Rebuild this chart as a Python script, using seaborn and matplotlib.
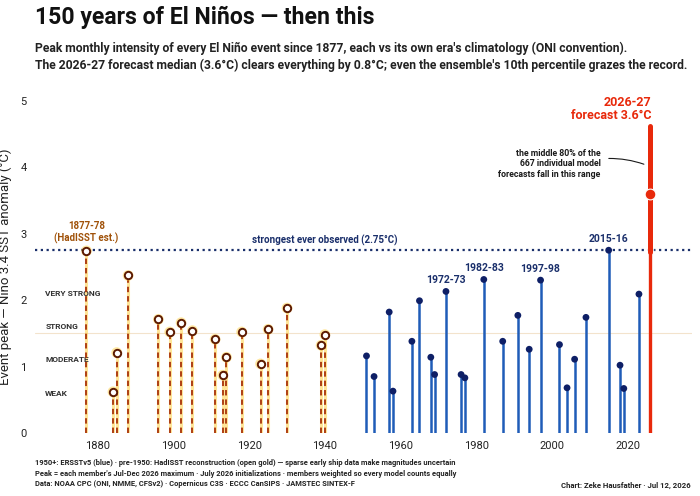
import matplotlib
matplotlib.use("Agg")
import matplotlib.pyplot as plt
import seaborn as sns
import pandas as pd
import numpy as np

# ---------------- data ----------------
gold_years = [1877, 1884, 1885, 1888, 1896, 1899, 1902, 1905, 1911, 1913, 1914,
              1918, 1923, 1925, 1930, 1939, 1940]
gold_peaks = [2.74, 0.62, 1.21, 2.37, 1.71, 1.52, 1.66, 1.54, 1.41, 0.87, 1.14,
              1.52, 1.04, 1.56, 1.88, 1.32, 1.48]

blue_years = [1951, 1953, 1957, 1958, 1963, 1965, 1968, 1969, 1972, 1976, 1977,
              1982, 1987, 1991, 1994, 1997, 2002, 2004, 2006, 2009, 2015, 2018,
              2019, 2023]
blue_peaks = [1.16, 0.85, 1.82, 0.63, 1.38, 1.99, 1.14, 0.88, 2.13, 0.88, 0.83,
              2.31, 1.38, 1.77, 1.26, 2.30, 1.33, 0.68, 1.11, 1.74, 2.75, 1.02,
              0.67, 2.09]

labelled_years = [1972, 1982, 1997, 2015]
labelled_names = ["1972-73", "1982-83", "1997-98", "2015-16"]

forecast_year = 2026
forecast_median = 3.6
forecast_p10 = 2.72
forecast_p90 = 4.62

record = 2.75
category_names = ["WEAK", "MODERATE", "STRONG", "VERY STRONG"]
category_thresholds = [0.5, 1.0, 1.5, 2.0]
xtick_years = [1880, 1900, 1920, 1940, 1960, 1980, 2000, 2020]
ytick_vals = [0, 1, 2, 3, 4, 5]

# ---------------- style ----------------
sns.set_theme(style="white")
plt.rcParams['font.family'] = ['Roboto', 'DejaVu Sans']

GOLD_DASH = "#a8320a"
GOLD_GLOW = "#ffcc33"
GOLD_EDGE = "#5c1a02"
BLUE_STEM = "#1f5cb8"
BLUE_DOT = "#0e1f66"
NAVY = "#1a2f6b"
RED = "#e8290b"

fig = plt.figure(figsize=(7.0, 4.96), dpi=100)
ax = fig.add_axes([0.05, 0.127, 0.939, 0.670])

gold_df = pd.DataFrame({"year": gold_years, "peak": gold_peaks})
blue_df = pd.DataFrame({"year": blue_years, "peak": blue_peaks})

# faint strong threshold line
ax.axhline(1.5, color="#f3e3cc", lw=0.8, zorder=0)

# record line
ax.axhline(record, color=NAVY, lw=1.6, ls=(0, (1, 1.6)), zorder=1)
ax.text(1940, record + 0.06, "strongest ever observed (2.75°C)", ha="center",
        va="bottom", fontsize=7, fontweight="bold", color=NAVY)

# category labels
for name, thr in zip(category_names, category_thresholds):
    ax.text(1866.1, thr + 0.1, name, ha="left", va="center", fontsize=6,
            fontweight="bold", color="#333333")

# gold stems (glow + dashed)
ax.vlines(gold_df["year"], 0, gold_df["peak"], color=GOLD_GLOW, lw=2.2,
          alpha=0.5, zorder=2)
ax.vlines(gold_df["year"], 0, gold_df["peak"], color=GOLD_DASH, lw=1.3,
          linestyles=(0, (3, 2.2)), zorder=3)
sns.scatterplot(data=gold_df, x="year", y="peak", ax=ax, s=60,
                color=GOLD_GLOW, alpha=0.45, edgecolor="none", zorder=4,
                legend=False)
sns.scatterplot(data=gold_df, x="year", y="peak", ax=ax, s=28,
                facecolor="white", edgecolor=GOLD_EDGE, linewidth=1.4,
                zorder=5, legend=False)

ax.text(1877, 2.85, "1877-78\n(HadISST est.)", ha="center", va="bottom",
        fontsize=7, fontweight="bold", color="#a0520a", linespacing=1.1)

# blue stems
ax.vlines(blue_df["year"], 0, blue_df["peak"], color=BLUE_STEM, lw=1.8,
          zorder=3)
sns.scatterplot(data=blue_df, x="year", y="peak", ax=ax, s=24,
                color=BLUE_DOT, edgecolor="none", zorder=5, legend=False)
for yr, nm in zip(labelled_years, labelled_names):
    pk = blue_peaks[blue_years.index(yr)]
    ax.text(yr, pk + 0.09, nm, ha="center", va="bottom", fontsize=7.5,
            fontweight="bold", color=NAVY)

# forecast
ax.vlines([forecast_year], 0, forecast_p10, color=RED, lw=2.4, zorder=6)
ax.vlines([forecast_year], forecast_p10, forecast_p90, color="white", lw=6,
          zorder=6, alpha=0.8)
ax.vlines([forecast_year], forecast_p10, forecast_p90, color=RED, lw=3.6,
          zorder=7, capstyle="round")
fc_df = pd.DataFrame({"year": [forecast_year], "peak": [forecast_median]})
sns.scatterplot(data=fc_df, x="year", y="peak", ax=ax, s=60, color=RED,
                edgecolor="white", linewidth=0.8, zorder=8, legend=False)
ax.text(forecast_year + 0.3, forecast_p90 + 0.06, "2026-27\nforecast 3.6°C",
        ha="right", va="bottom", fontsize=9, fontweight="bold", color=RED,
        linespacing=1.0)
ax.text(2012.9, 4.05, "the middle 80% of the\n667 individual model\nforecasts fall in this range",
        ha="right", va="center", fontsize=6.3, fontweight="bold",
        color="#1a1a1a", linespacing=1.25)
ax.annotate("", xy=(2025.0, 4.03), xytext=(2014.3, 4.13),
            arrowprops=dict(arrowstyle="-", color="#1a1a1a", lw=0.8,
                            connectionstyle="arc3,rad=-0.1"))

# axes
ax.set_xlim(1863.4, 2037.1)
ax.set_ylim(0, 5)
ax.set_xticks(xtick_years)
ax.set_xticklabels([str(y) for y in xtick_years])
ax.set_yticks(ytick_vals)
ax.tick_params(axis="both", length=0, labelsize=8, colors="#222222", pad=6)
ax.set_xlabel("")
ax.set_ylabel("Event peak — Niño 3.4 SST anomaly (°C)", fontsize=9.5,
              color="#222222", labelpad=6)
sns.despine(ax=ax, left=True, bottom=True)
ax.grid(False)

# titles
fig.text(0.05, 0.965, "150 years of El Niños — then this", ha="left",
         va="center", fontsize=16.6, fontweight="bold", color="#111111")
fig.text(0.05, 0.885,
         "Peak monthly intensity of every El Niño event since 1877, each vs its own era's climatology (ONI convention).\n"
         "The 2026-27 forecast median (3.6°C) clears everything by 0.8°C; even the ensemble's 10th percentile grazes the record.",
         ha="left", va="center", fontsize=8.7, fontweight="bold",
         color="#222222", linespacing=1.3)

# footer
fig.text(0.05, 0.045,
         "1950+: ERSSTv5 (blue) · pre-1950: HadISST reconstruction (open gold) — sparse early ship data make magnitudes uncertain\n"
         "Peak = each member's Jul-Dec 2026 maximum · July 2026 initializations · members weighted so every model counts equally\n"
         "Data: NOAA CPC (ONI, NMME, CFSv2) · Copernicus C3S · ECCC CanSIPS · JAMSTEC SINTEX-F",
         ha="left", va="center", fontsize=5.4, fontweight="bold",
         color="#222222", linespacing=1.4)
fig.text(0.986, 0.022, "Chart: Zeke Hausfather · Jul 12, 2026", ha="right",
         va="center", fontsize=5.6, fontweight="bold", color="#222222")

fig.savefig("out.png", dpi=100, facecolor="white")
